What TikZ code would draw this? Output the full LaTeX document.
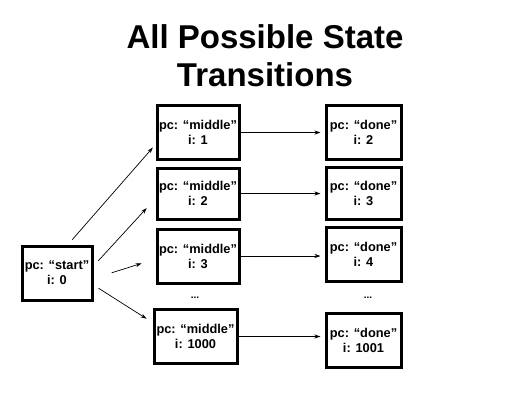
\documentclass[tikz,border=0pt]{standalone}
\usepackage{fontspec}
\setmainfont{Liberation Sans}
\usetikzlibrary{arrows.meta}

\begin{document}
\begin{tikzpicture}[
x=1pt, y=-1pt,
kasten/.style={draw, line width=3pt, minimum height=54pt, inner sep=1pt, align=center, font=\fontsize{12.8}{15}\selectfont\bfseries},
mittel/.style={kasten, minimum width=82pt},
fertig/.style={kasten, minimum width=75pt},
pfeil/.style={-{Stealth[length=6pt,width=4pt]}, line width=0.7pt},
]
\useasboundingbox (0,0) rectangle (532,400);

\node[anchor=north, inner sep=0pt, align=center, font=\fontsize{33}{38.5}\selectfont\bfseries] (titel) at (265,24) {All Possible State\\Transitions};

\node[kasten, minimum width=70pt] (start) at (57,273) {pc: “start”\\i: 0};

\node[mittel] (m1) at (198,132.5) {pc: “middle”\\i: 1};
\node[mittel, minimum height=51pt] (m2) at (198,193.5) {pc: “middle”\\i: 2};
\node[mittel] (m3) at (198,256) {pc: “middle”\\i: 3};
\node[mittel, minimum width=83pt] (m4) at (195.5,336.5) {pc: “middle”\\i: 1000};

\node[fertig] (d1) at (363.5,132) {pc: “done”\\i: 2};
\node[fertig, minimum height=52pt] (d2) at (363.5,193) {pc: “done”\\i: 3};
\node[fertig] (d3) at (363.5,254) {pc: “done”\\i: 4};
\node[fertig] (d4) at (363.5,340) {pc: “done”\\i: 1001};

\node[font=\bfseries] (pm) at (195,298) {...};
\node[font=\bfseries] (pd) at (368,298) {...};

%Pfeile vom Start aus, mit Abstand zu den Kaesten
\draw[pfeil, shorten <=6.5pt, shorten >=4pt] ([xshift=11pt]start.north) -- ([yshift=-12pt]m1.west);
\draw[pfeil, shorten <=7pt, shorten >=13pt] ([yshift=7pt]start.east) -- ([yshift=-5pt]m2.west);
\draw[pfeil, shorten <=19pt, shorten >=14.5pt] ([yshift=-5.5pt]start.east) -- ([yshift=-3pt]m3.west);
\draw[pfeil, shorten <=6pt, shorten >=7pt] ([yshift=-12pt]start.east) -- ([yshift=14pt]m4.west);

\foreach \k in {1,...,4} {
  \draw[pfeil, shorten >=4pt] (m\k.east) -- (d\k.west |- m\k.east);
}

\end{tikzpicture}
\end{document}
